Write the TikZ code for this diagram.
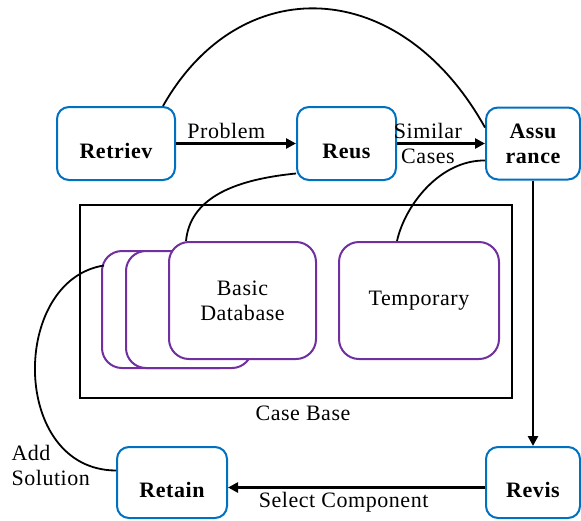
\documentclass[tikz,border=0pt]{standalone}
\usepackage{fontspec}
\setmainfont{Liberation Serif}[LetterSpace=2.5]
\usetikzlibrary{arrows.meta}
\definecolor{boxblue}{RGB}{0,112,192}
\definecolor{dbpurple}{RGB}{112,48,160}
\begin{document}
\begin{tikzpicture}[x=1pt,y=-1pt,
  txt/.style={font=\fontsize{22}{25}\selectfont},
  stage/.style={draw=boxblue, line width=2pt, rounded corners=12pt, fill=white,
    font=\fontsize{22}{25}\selectfont\bfseries, align=center, inner sep=0pt},
  oneline/.style={text height=29pt, text depth=0pt},
  store/.style={draw=dbpurple, line width=2pt, rounded corners=20pt, fill=white,
    font=\fontsize{22}{25}\selectfont, align=center, inner sep=0pt,
    minimum height=117pt},
  frame/.style={draw, line width=2pt, inner sep=0pt},
  flow/.style={line width=2.5pt, -{Triangle[length=10pt,width=10pt]}},
  link/.style={line width=1.8pt},
]
\useasboundingbox (0,0) rectangle (581,520);

% case base with its stacked databases
\node[frame, minimum width=432pt, minimum height=193pt] (cb) at (296,301.5) {};
\node[txt] (cblabel) at (303,413) {Case Base};
\node[store, minimum width=138pt] (db1) at (171,309.5) {};
\node[store, minimum width=126pt] (db2) at (189,309.5) {};
\node[store, minimum width=147pt] (db) at (242.5,300.5) {Basic\\Database};
\node[store, minimum width=160pt] (temp) at (419,300.5) {Temporary};

% process stages
\node[stage, oneline, minimum width=118pt, minimum height=73pt] (retriev) at (116,143.5) {Retriev};
\node[stage, oneline, minimum width=99pt, minimum height=73pt] (reus) at (346.5,143.5) {Reus};
\node[stage, minimum width=94pt, minimum height=72pt] (assur) at (533,143.5) {Assu\\rance};
\node[stage, oneline, minimum width=94pt, minimum height=71pt] (revis) at (533,482.5) {Revis};
\node[stage, oneline, minimum width=110pt, minimum height=71pt] (retain) at (172,482.5) {Retain};

% main flow
\draw[flow] (retriev) -- node[txt, above, pos=0.42] (problem) {Problem} (reus);
\draw[flow] (reus) -- node[txt, align=center, xshift=-13pt] (similar) {Similar\\Cases} (assur);
\draw[flow] (assur) -- (revis);
\draw[flow] ([yshift=-5pt]revis.west) -- node[txt, below, pos=0.55] (select) {Select Component} ([yshift=-5pt]retain.east);

% links between stages and the case base
\draw[link] ([xshift=-13pt]retriev.north east) .. controls (240,-30) and (400,-25) .. ([yshift=16pt]assur.west);
\draw[link] ([yshift=-30pt]reus.west) .. controls (230,180) and (190,200) .. ([xshift=18pt]db.north west);
\draw[link] ([yshift=-17pt]assur.west) .. controls (440,160) and (405,205) .. ([xshift=-22pt]temp.north);
\draw[link] ([xshift=3pt,yshift=44pt]db1.west) .. controls (10,280) and (10,470) .. ([yshift=12pt]retain.west);
\node[txt, align=left, anchor=west] (addsol) at (8,465) {Add\\Solution};
\end{tikzpicture}
\end{document}
